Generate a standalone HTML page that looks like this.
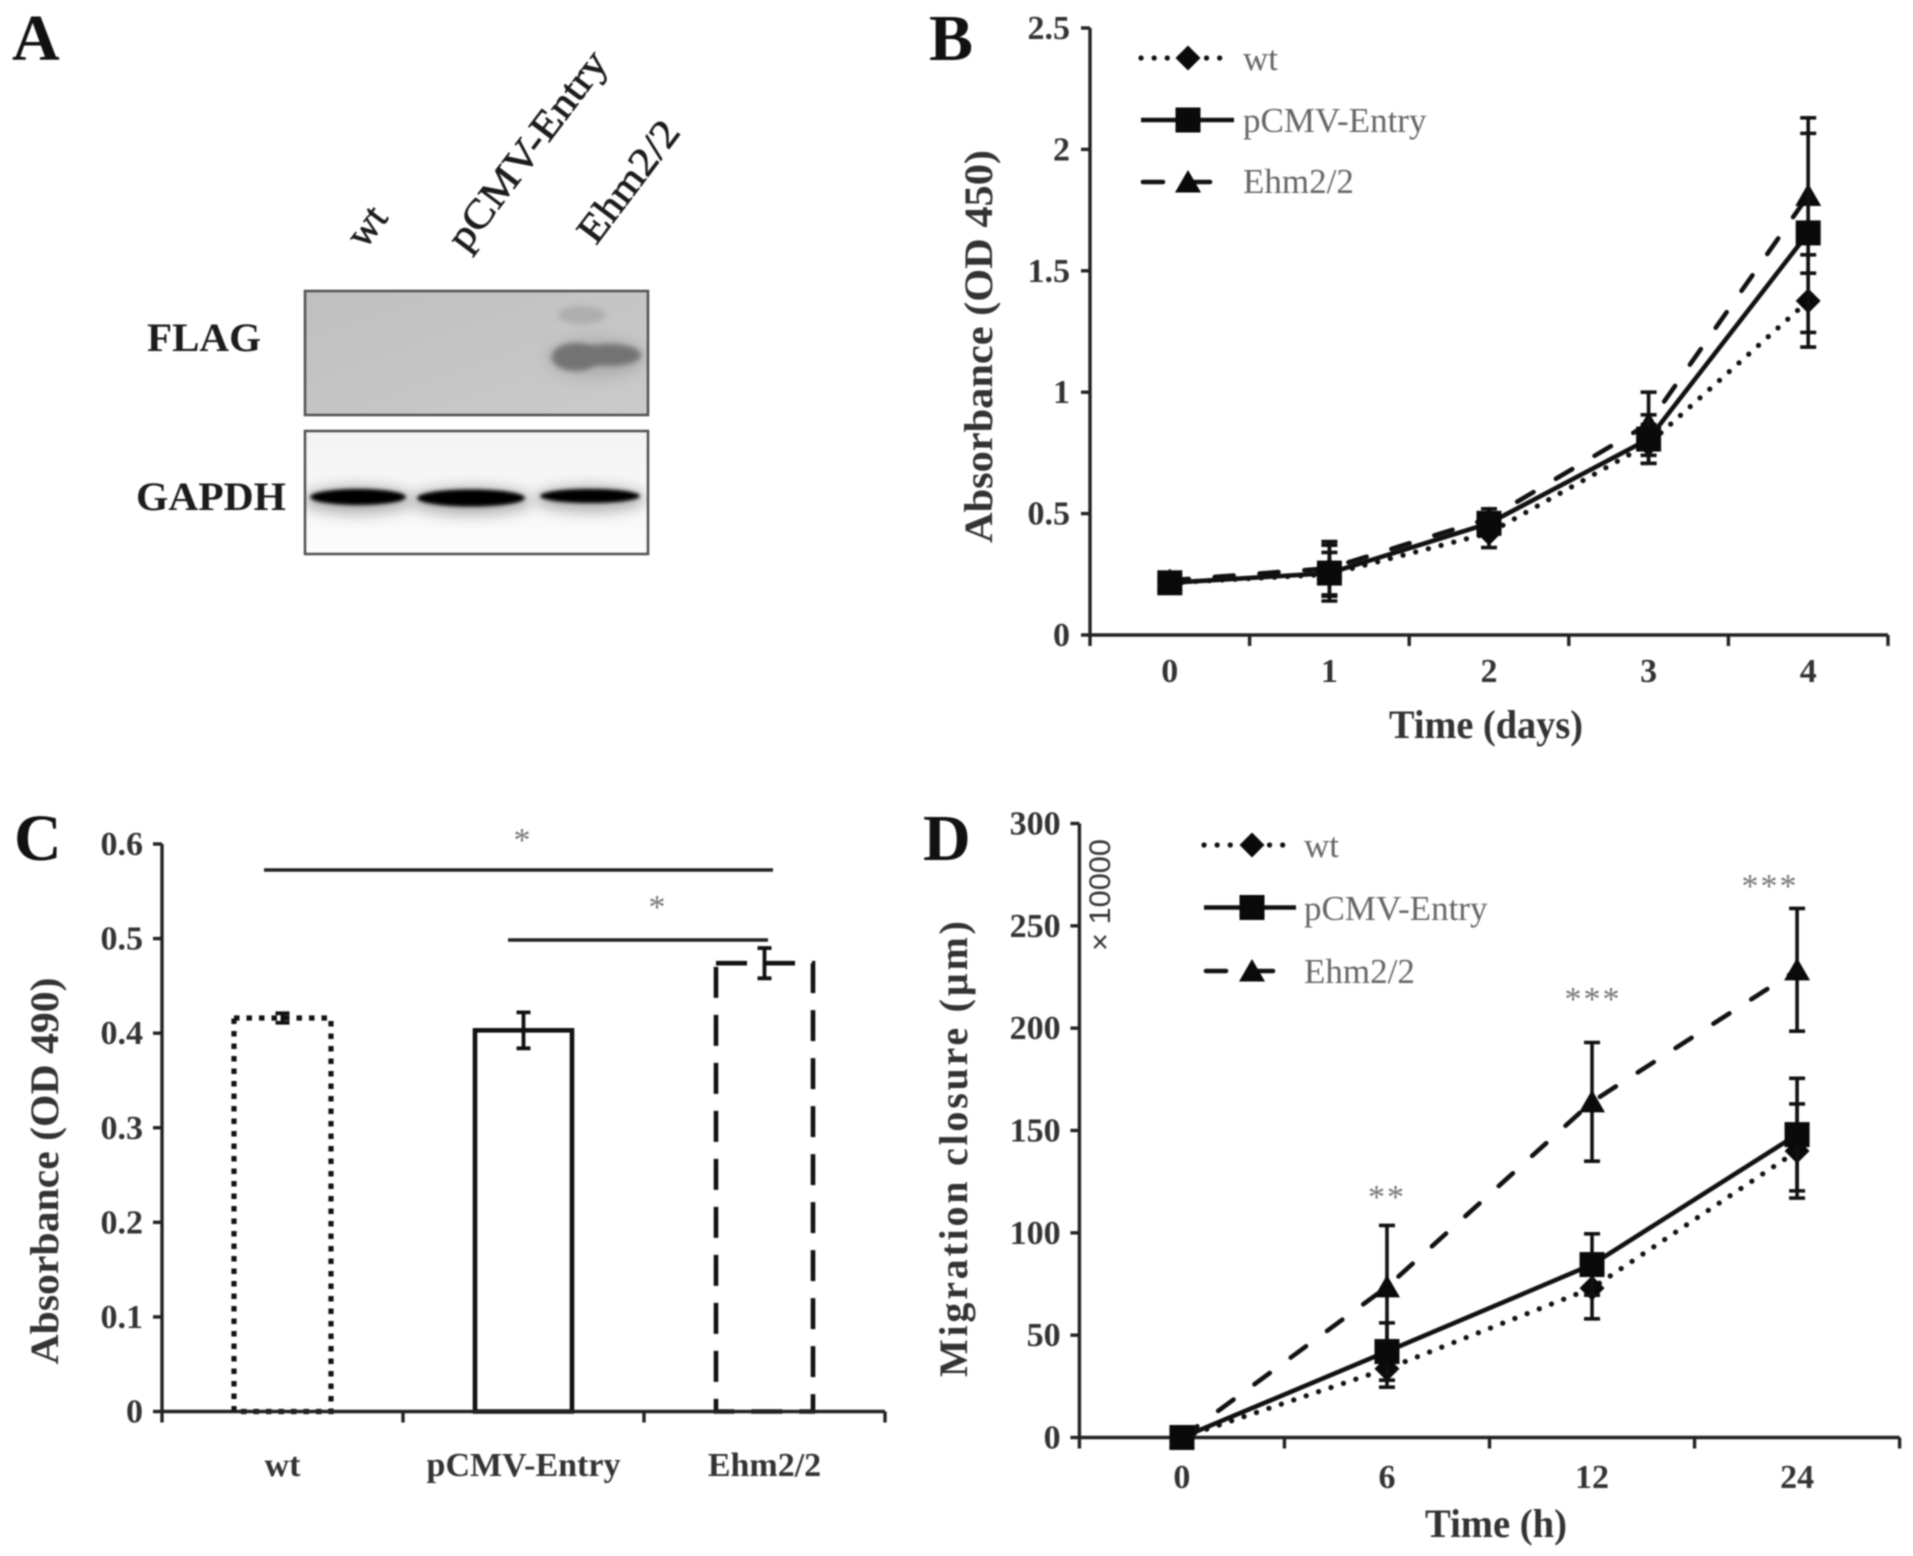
<!DOCTYPE html>
<html lang="en">
<head>
<meta charset="utf-8">
<title>Ehm2/2 expression, absorbance and migration figure</title>
<style>
html,body{margin:0;padding:0;background:#fff;}
#figure{display:block;width:1913px;height:1556px;filter:blur(0.9px);}
text{font-family:"Liberation Serif",serif;}
.panel-letter{font-size:66px;font-weight:bold;fill:#111;}
.title{font-size:40px;font-weight:bold;fill:#333;}
.tick{font-size:34px;font-weight:bold;fill:#333;}
.legend{font-size:35px;fill:#666;}
.star{font-size:34px;fill:#777;text-anchor:middle;}
.blot-label{font-size:40px;font-weight:bold;fill:#1c1c1c;}
</style>
</head>
<body>
<svg id="figure" xmlns="http://www.w3.org/2000/svg" width="1913" height="1556" viewBox="0 0 1913 1556">
  <defs>
    <filter id="soft8" filterUnits="userSpaceOnUse" x="280" y="280" width="400" height="290"><feGaussianBlur stdDeviation="7"/></filter>
    <filter id="soft3" filterUnits="userSpaceOnUse" x="280" y="280" width="400" height="290"><feGaussianBlur stdDeviation="2.6"/></filter>
    <filter id="soft2" filterUnits="userSpaceOnUse" x="280" y="280" width="400" height="290"><feGaussianBlur stdDeviation="1.8"/></filter>
    <clipPath id="clip-flag"><rect x="305" y="291" width="343" height="124"/></clipPath>
    <clipPath id="clip-gapdh"><rect x="305" y="431" width="343" height="123"/></clipPath>
    <linearGradient id="flag-bg" x1="0" y1="0" x2="1" y2="1"><stop offset="0" stop-color="#bfbfbf"/><stop offset="1" stop-color="#cacaca"/></linearGradient>
    <linearGradient id="gapdh-bg" x1="0" y1="0" x2="0" y2="1"><stop offset="0" stop-color="#f3f3f3"/><stop offset="1" stop-color="#fbfbfb"/></linearGradient>
  </defs>

  <!-- Panel A: western blot -->
  <g>
    <text class="panel-letter" x="12" y="60">A</text>
    <text class="blot-label" transform="translate(365,250) rotate(-53)" style="font-weight:normal;stroke:#1c1c1c;stroke-width:.7px">wt</text>
    <text class="blot-label" transform="translate(466,253) rotate(-53)" textLength="238" lengthAdjust="spacingAndGlyphs" style="font-weight:normal;stroke:#1c1c1c;stroke-width:.7px">pCMV-Entry</text>
    <text class="blot-label" transform="translate(596,246) rotate(-53)" textLength="142" lengthAdjust="spacingAndGlyphs" style="font-weight:normal;stroke:#1c1c1c;stroke-width:.7px">Ehm2/2</text>
    <text class="blot-label" x="147" y="351" textLength="114" lengthAdjust="spacingAndGlyphs">FLAG</text>
    <text class="blot-label" x="136" y="510" textLength="150" lengthAdjust="spacingAndGlyphs">GAPDH</text>
    <g clip-path="url(#clip-flag)">
      <rect x="305" y="291" width="343" height="124" fill="url(#flag-bg)"/>
      <ellipse cx="582" cy="315" rx="24" ry="9" fill="#aeaeae" filter="url(#soft3)"/>
      <ellipse cx="596" cy="358" rx="50" ry="20" fill="#a0a0a0" opacity=".6" filter="url(#soft8)"/>
      <ellipse cx="576" cy="357" rx="24" ry="14" fill="#737373" filter="url(#soft3)"/>
      <ellipse cx="610" cy="355" rx="31" ry="11" fill="#737373" filter="url(#soft3)"/>
    </g>
    <rect x="305" y="291" width="343" height="124" fill="none" stroke="#505050" stroke-width="2.5"/>
    <g clip-path="url(#clip-gapdh)">
      <rect x="305" y="431" width="343" height="123" fill="url(#gapdh-bg)"/>
      <ellipse cx="358" cy="500" rx="56" ry="14" fill="#b0b0b0" filter="url(#soft8)"/>
      <ellipse cx="471" cy="501" rx="62" ry="14" fill="#b0b0b0" filter="url(#soft8)"/>
      <ellipse cx="590" cy="499" rx="56" ry="13" fill="#b0b0b0" filter="url(#soft8)"/>
      <ellipse cx="358" cy="497" rx="48" ry="8" fill="#050505" filter="url(#soft2)"/>
      <ellipse cx="471" cy="498" rx="54" ry="8.5" fill="#050505" filter="url(#soft2)"/>
      <ellipse cx="590" cy="496" rx="50" ry="7" fill="#050505" filter="url(#soft2)"/>
    </g>
    <rect x="305" y="431" width="343" height="123" fill="none" stroke="#505050" stroke-width="2.5"/>
  </g>

  <!-- Panel static text -->
  <text class="panel-letter" x="929" y="60">B</text>
  <text class="title" transform="translate(992,346.5) rotate(-90)" text-anchor="middle" textLength="393" lengthAdjust="spacingAndGlyphs">Absorbance (OD 450)</text>
  <text class="title" x="1486" y="738" text-anchor="middle" textLength="194" lengthAdjust="spacingAndGlyphs">Time (days)</text>

  <text class="panel-letter" x="14" y="860">C</text>
  <text class="title" transform="translate(58,1171) rotate(-90)" text-anchor="middle" textLength="387" lengthAdjust="spacingAndGlyphs">Absorbance (OD 490)</text>
  <text class="star" x="522" y="851">*</text>
  <text class="star" x="657" y="918">*</text>

  <text class="panel-letter" x="923" y="860">D</text>
  <text class="title" transform="translate(967,1149) rotate(-90)" text-anchor="middle" textLength="456" lengthAdjust="spacing">Migration closure (µm)</text>
  <text transform="translate(1110,951) rotate(-90)" textLength="112" lengthAdjust="spacingAndGlyphs" style="font-family:'Liberation Sans',sans-serif;font-size:30px;fill:#333">× 10000</text>
  <text class="title" x="1496" y="1537" text-anchor="middle" textLength="142" lengthAdjust="spacingAndGlyphs">Time (h)</text>

  <g id="plots"></g>
</svg>

<script>
// ---------- Panel B data ----------
const bCategories = ['0', '1', '2', '3', '4'];
const bTickLabels = ['0', '0.5', '1', '1.5', '2', '2.5'];
const bWt = [0.215, 0.25, 0.42, 0.787, 1.376];
const bWtErr = [0, 0.09, 0.06, 0.08, 0.19];
const bPcmv = [0.215, 0.255, 0.46, 0.807, 1.656];
const bPcmvErr = [0, 0.115, 0.04, 0.1, 0.41];
const bEhm = [0.225, 0.275, 0.48, 0.87, 1.81];
const bEhmErr = [0, 0.11, 0.04, 0.13, 0.32];

// ---------- Panel C data ----------
const cCategories = ['wt', 'pCMV-Entry', 'Ehm2/2'];
const cTickLabels = ['0', '0.1', '0.2', '0.3', '0.4', '0.5', '0.6'];
const cValues = [0.416, 0.403, 0.474];
const cErrors = [0.005, 0.019, 0.016];

// ---------- Panel D data ----------
const dCategories = ['0', '6', '12', '24'];
const dTickLabels = ['0', '50', '100', '150', '200', '250', '300'];
const dWt = [0, 33.6, 73, 140];
const dWtErr = [0, 9, 15, 23];
const dPcmv = [0, 42, 84.5, 148];
const dPcmvErr = [0, 14, 15, 27.5];
const dEhm = [0, 73.6, 164, 228.5];
const dEhmErr = [0, 30, 29, 30];

const legendLabels = ['wt', 'pCMV-Entry', 'Ehm2/2'];

// ---------- Panel geometry ----------
const panelB = {key: 'b', left: 1090, right: 1888, top: 28, bottom: 635, max: 2.5, labelRight: 1070, catBaseline: 682};
const panelC = {key: 'c', left: 162, right: 885, top: 844, bottom: 1411.5, max: 0.6, labelRight: 143, catBaseline: 1476};
const panelD = {key: 'd', left: 1079.4, right: 1899.6, top: 823.5, bottom: 1437.5, max: 300, labelRight: 1060.6, catBaseline: 1488};

const styles = {
  wt: {dash: '0.1 13', width: 5.2, cap: 'round', marker: 'diamond'},
  pcmv: {dash: 'none', width: 4.6, cap: 'butt', marker: 'square'},
  ehm: {dash: '19 26', width: 4.6, cap: 'round', marker: 'triangle'}
};

const NS = 'http://www.w3.org/2000/svg';
const plots = document.getElementById('plots');

function make(tag, attrs, parent) {
  const node = document.createElementNS(NS, tag);
  for (const k in attrs) node.setAttribute(k, attrs[k]);
  (parent || plots).appendChild(node);
  return node;
}
function yScale(p, v) { return p.bottom - (v / p.max) * (p.bottom - p.top); }
function xBand(p, n, i) { return p.left + (i + 0.5) * (p.right - p.left) / n; }
function xEdge(p, n, i) { return p.left + i * (p.right - p.left) / n; }

function drawAxes(p, categories, tickLabels) {
  const n = categories.length;
  const g = make('g', {});
  
  
  const axisStyle = {stroke: '#222', 'stroke-width': 3.4, fill: 'none'};
  const yAxis = make('line', Object.assign({x1: p.left, x2: p.left, y1: p.top, y2: p.bottom}, axisStyle), g);
  
  
  const xAxis = make('line', Object.assign({x1: p.left, x2: p.right, y1: p.bottom, y2: p.bottom}, axisStyle), g);
  
  
  tickLabels.forEach(function (label) {
    const y = yScale(p, parseFloat(label));
    const tick = make('line', Object.assign({x1: p.left - 9, x2: p.left, y1: y, y2: y}, axisStyle), g);
    
    
    const t = make('text', {x: p.labelRight, y: y + 11, class: 'tick', 'text-anchor': 'end'}, g);
    t.textContent = label;
    
    
  });
  for (let i = 0; i <= n; i++) {
    const x = xEdge(p, n, i);
    const tick = make('line', Object.assign({x1: x, x2: x, y1: p.bottom, y2: p.bottom + 11}, axisStyle), g);
    
    
  }
  categories.forEach(function (label, i) {
    const t = make('text', {x: xBand(p, n, i), y: p.catBaseline, class: 'tick', 'text-anchor': 'middle'}, g);
    t.textContent = label;
    
    
  });
}

function drawMarker(kind, x, y, parent) {
  let node;
  if (kind === 'diamond') {
    node = make('polygon', {points: [x - 12.5, y, x, y - 12.5, x + 12.5, y, x, y + 12.5].join(' '), fill: '#0a0a0a'}, parent);
  } else if (kind === 'square') {
    node = make('rect', {x: x - 12.5, y: y - 12.5, width: 25, height: 25, fill: '#0a0a0a'}, parent);
  } else {
    node = make('polygon', {points: [x - 13, y + 10.5, x, y - 12, x + 13, y + 10.5].join(' '), fill: '#0a0a0a'}, parent);
  }
  return node;
}

function drawSeries(p, name, values, errors, style) {
  const n = values.length;
  const g = make('g', {});
  
  
  const pts = values.map(function (v, i) { return xBand(p, n, i) + ',' + yScale(p, v); }).join(' ');
  const line = make('polyline', {points: pts, fill: 'none', stroke: '#111', 'stroke-width': style.width, 'stroke-linecap': style.cap, 'stroke-dasharray': style.dash}, g);
  
  
  values.forEach(function (v, i) {
    const x = xBand(p, n, i);
    if (errors[i] > 0) {
      const hi = yScale(p, v + errors[i]);
      const lo = yScale(p, v - errors[i]);
      const bar = make('path', {d: 'M' + x + ' ' + hi + 'V' + lo + 'M' + (x - 8) + ' ' + hi + 'H' + (x + 8) + 'M' + (x - 8) + ' ' + lo + 'H' + (x + 8), stroke: '#111', 'stroke-width': 3.6, fill: 'none'}, g);
      
      
    }
    const mark = drawMarker(style.marker, x, yScale(p, v), g);
    
    
  });
}

function drawLegend(panelKey, x1, x2, markerX, textX, lineYs, baselines) {
  const order = ['wt', 'pcmv', 'ehm'];
  order.forEach(function (key, i) {
    const s = styles[key];
    const g = make('g', {});
    
    
    const end = key === 'wt' ? x2 - 7 : key === 'ehm' ? x2 - 21 : x2;
    const swatch = make('line', {x1: x1 + (key === 'ehm' ? 2 : 0), x2: end, y1: lineYs[i], y2: lineYs[i], stroke: '#111', 'stroke-width': s.width, 'stroke-linecap': s.cap, 'stroke-dasharray': key === 'wt' ? '0.1 13' : key === 'ehm' ? '20 27' : 'none'}, g);
    
    
    const m = drawMarker(s.marker, markerX, lineYs[i], g);
    
    
    const t = make('text', {x: textX, y: baselines[i], class: 'legend'}, g);
    t.textContent = legendLabels[i];
    
    
  });
}

function drawBars(p, categories, values, errors) {
  const n = categories.length;
  const barWidth = 97;
  const barStyles = [
    {dash: '5.5 7', width: 5.2},
    {dash: 'none', width: 4.6},
    {dash: '31 17', width: 4.6}
  ];
  values.forEach(function (v, i) {
    const cx = xBand(p, n, i);
    const top = yScale(p, v);
    const s = barStyles[i];
    const bar = make('rect', {x: cx - barWidth / 2, y: top, width: barWidth, height: p.bottom - top, fill: 'none', stroke: '#111', 'stroke-width': s.width, 'stroke-dasharray': s.dash}, plots);
    
    
    const hi = yScale(p, v + errors[i]);
    const lo = yScale(p, v - errors[i]);
    const err = make('path', {d: 'M' + cx + ' ' + hi + 'V' + lo + 'M' + (cx - 7) + ' ' + hi + 'H' + (cx + 7) + 'M' + (cx - 7) + ' ' + lo + 'H' + (cx + 7), stroke: '#111', 'stroke-width': 3.8, fill: 'none'}, plots);
    
    
  });
  const spans = [[264, 773, 870], [508, 768, 940]];
  spans.forEach(function (s, i) {
    const line = make('line', {x1: s[0], x2: s[1], y1: s[2], y2: s[2], stroke: '#222', 'stroke-width': 3.6}, plots);
    
    
  });
}

function drawStars(labels, xs, ys) {
  labels.forEach(function (label, i) {
    const t = make('text', {x: xs[i], y: ys[i], class: 'star', 'letter-spacing': '2'}, plots);
    t.textContent = label;
    
    
  });
}

// ---------- Render ----------
drawAxes(panelB, bCategories, bTickLabels);
drawSeries(panelB, 'wt', bWt, bWtErr, styles.wt);
drawSeries(panelB, 'ehm2-2', bEhm, bEhmErr, styles.ehm);
drawSeries(panelB, 'pcmv-entry', bPcmv, bPcmvErr, styles.pcmv);
drawLegend('b', 1141, 1234, 1188, 1243, [58, 120, 182], [70, 132, 193]);

drawBars(panelC, cCategories, cValues, cErrors);
drawAxes(panelC, cCategories, cTickLabels);

drawAxes(panelD, dCategories, dTickLabels);
drawSeries(panelD, 'wt', dWt, dWtErr, styles.wt);
drawSeries(panelD, 'ehm2-2', dEhm, dEhmErr, styles.ehm);
drawSeries(panelD, 'pcmv-entry', dPcmv, dPcmvErr, styles.pcmv);
drawLegend('d', 1204, 1296, 1252, 1304, [845, 907.5, 971], [857, 920, 983]);
drawStars(['**', '***', '***'], [1387, 1593, 1770], [1208, 1010, 897]);
</script>
</body>
</html>
